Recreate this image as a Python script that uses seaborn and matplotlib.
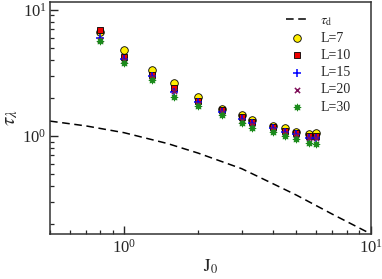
import numpy as np
import pandas as pd
import matplotlib
matplotlib.use("Agg")
import matplotlib.pyplot as plt
import seaborn as sns
from matplotlib.ticker import LogLocator, NullFormatter

# ---- data ----
J0 = [0.8, 1.0, 1.3, 1.6, 2.0, 2.5, 3.0, 3.3, 4.0, 4.5, 5.0, 5.6, 6.0]
tau_L7 = [6.6, 4.8, 3.3, 2.62, 2.05, 1.63, 1.47, 1.34, 1.2, 1.16, 1.08, 1.04, 1.05]
tau_L10 = [6.9, 4.18, 3.01, 2.39, 1.90, 1.60, 1.40, 1.28, 1.17, 1.10, 1.05, 1.0, 0.99]
tau_L15 = [5.96, 4.1, 3.0, 2.22, 1.85, 1.55, 1.36, 1.27, 1.16, 1.08, 1.04, 0.97, 0.97]
tau_L20 = [5.78, 4.0, 2.94, 2.27, 1.79, 1.54, 1.34, 1.24, 1.14, 1.06, 1.02, 0.96, 0.96]
tau_L30 = [5.6, 3.8, 2.77, 2.05, 1.73, 1.47, 1.27, 1.16, 1.07, 1.0, 0.95, 0.875, 0.865]

J_d = [0.5, 0.7, 1.0, 1.5, 2.0, 3.0, 4.0, 5.0, 7.0, 10.0]
tau_d = [1.31, 1.2, 1.06, 0.87, 0.73, 0.55, 0.42, 0.34, 0.24, 0.168]

series_labels = ["L=7", "L=10", "L=15", "L=20", "L=30"]
series_values = [tau_L7, tau_L10, tau_L15, tau_L20, tau_L30]

# ---- style ----
sns.set_style("ticks")
plt.rcParams["font.family"] = ["Liberation Serif", "DejaVu Serif"]
plt.rcParams["mathtext.fontset"] = "stix"

fig = plt.figure(figsize=(3.82, 2.79), dpi=100)
ax = fig.add_axes([0.131, 0.161, 0.839, 0.832])

sns.lineplot(x=J_d, y=tau_d, ax=ax, color="black", linestyle=(0, (5, 3)),
             linewidth=1.1, label=r"$\tau_{\mathrm{d}}$")

styles = [
    dict(marker="o", color="#ffee00", edgecolor="black", s=30, linewidth=0.6),
    dict(marker="s", color="#ee0000", edgecolor="black", s=22, linewidth=0.6),
    dict(marker="+", color="#0000ff", s=30, linewidth=1.1),
    dict(marker="x", color="#80105a", s=14, linewidth=1.1),
    dict(marker=(8, 1, 0), color="#1a8a1a", edgecolor="#1a8a1a", s=26, linewidth=0.6),
]
for lab, vals, st in zip(series_labels, series_values, styles):
    sns.scatterplot(x=J0, y=vals, ax=ax, label=lab, zorder=3, **st)

ax.set_xscale("log")
ax.set_yscale("log")
ax.set_xlim(0.5, 10)
ax.set_ylim(0.167, 11.5)

for sp in ["left", "bottom", "right", "top"]:
    ax.spines[sp].set_visible(True)
    ax.spines[sp].set_linewidth(1.1)
    ax.spines[sp].set_color("#333333")

ax.tick_params(which="major", direction="in", length=6, width=1.0,
               labelsize=12, top=False, right=False)
ax.tick_params(axis="x", which="major", pad=3.5)
ax.tick_params(axis="y", which="major", pad=2.5)
ax.tick_params(which="minor", direction="in", length=3, width=0.9,
               top=False, right=False)
ax.xaxis.set_minor_formatter(NullFormatter())
ax.yaxis.set_minor_formatter(NullFormatter())

ax.set_xlabel(r"$\mathrm{J_0}$", fontsize=13)
ax.set_ylabel(r"$\tau_{\lambda}$", fontsize=15)
ax.xaxis.set_label_coords(0.5, -0.10)
ax.yaxis.set_label_coords(-0.092, 0.5)

leg = ax.legend(loc="upper right", bbox_to_anchor=(0.955, 0.972), frameon=False,
                fontsize=10, handlelength=1.7, handletextpad=0.8,
                labelspacing=0.3, borderaxespad=0.0)

fig.savefig("out.png", dpi=100)
